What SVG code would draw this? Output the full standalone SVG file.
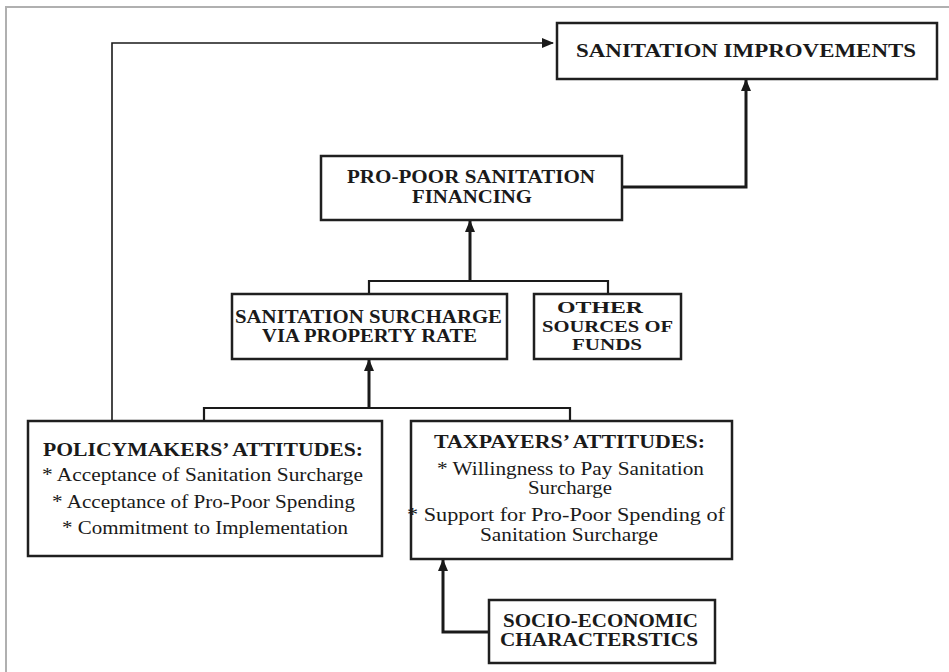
<svg xmlns="http://www.w3.org/2000/svg" width="949" height="672" viewBox="0 0 949 672">
<defs>
<marker id="ah" markerUnits="userSpaceOnUse" markerWidth="12" markerHeight="12" viewBox="0 0 12 12" refX="11" refY="6" orient="auto">
<path d="M0,1 L12,6 L0,11 Z" fill="#1a1a1a"/>
</marker>
</defs>
<style>
.box{fill:#fff;stroke:#1f1f1f;stroke-width:2.5}
.t{font-family:"Liberation Serif","Times New Roman",serif;fill:#1a1a1a;text-anchor:middle}
.b{font-weight:bold;font-size:18.5px}
.s{font-weight:bold;font-size:16px}
.r{font-size:19px}
.c{fill:none;stroke:#1a1a1a;stroke-linejoin:miter}
.thin{stroke-width:1.6}
.mid{stroke-width:2.2}
.thick{stroke-width:3}
</style>
<rect width="949" height="672" fill="#fff"/>
<path d="M6,672 V7 H949" fill="none" stroke="#b0b0b0" stroke-width="2"/>
<g id="connectors">
<path class="c thin" d="M112,421 V43 H553" marker-end="url(#ah)"/>
<path class="c thick" d="M622,187 H746 V80" marker-end="url(#ah)"/>
<path class="c mid" d="M369,294 V281 H608 V294"/>
<path class="c thick" d="M470,281 V221" marker-end="url(#ah)"/>
<path class="c mid" d="M204,421 V408 H570 V421"/>
<path class="c thick" d="M369,408 V360" marker-end="url(#ah)"/>
<path class="c thick" d="M489,632 H443 V560" marker-end="url(#ah)"/>
</g>
<g id="sanitation-improvements">
<rect class="box" x="557" y="23" width="380" height="56"/>
<text class="t b" x="746" y="57" textLength="340" lengthAdjust="spacingAndGlyphs">SANITATION  IMPROVEMENTS</text>
</g>
<g id="pro-poor-financing">
<rect class="box" x="321" y="156" width="301" height="64"/>
<text class="t b" x="471" y="183" textLength="248" lengthAdjust="spacingAndGlyphs">PRO-POOR SANITATION</text>
<text class="t b" x="472" y="203" textLength="120" lengthAdjust="spacingAndGlyphs">FINANCING</text>
</g>
<g id="sanitation-surcharge">
<rect class="box" x="232" y="294" width="275" height="65"/>
<text class="t b" x="368.5" y="323" textLength="267" lengthAdjust="spacingAndGlyphs">SANITATION SURCHARGE</text>
<text class="t b" x="369.5" y="342" textLength="215" lengthAdjust="spacingAndGlyphs">VIA PROPERTY RATE</text>
</g>
<g id="other-sources">
<rect class="box" x="534" y="294" width="147" height="65"/>
<text class="t s" x="600" y="313" textLength="86" lengthAdjust="spacingAndGlyphs">OTHER</text>
<text class="t s" x="607.5" y="332" textLength="131" lengthAdjust="spacingAndGlyphs">SOURCES OF</text>
<text class="t s" x="607" y="350" textLength="70" lengthAdjust="spacingAndGlyphs">FUNDS</text>
</g>
<g id="policymakers-attitudes">
<rect class="box" x="28" y="421" width="354" height="135"/>
<text class="t b" x="203" y="456" textLength="320" lengthAdjust="spacingAndGlyphs">POLICYMAKERS’  ATTITUDES:</text>
<text class="t r" x="202.5" y="481" textLength="321" lengthAdjust="spacingAndGlyphs">* Acceptance of Sanitation  Surcharge</text>
<text class="t r" x="203.5" y="508" textLength="303" lengthAdjust="spacingAndGlyphs">* Acceptance of Pro-Poor Spending</text>
<text class="t r" x="205" y="534" textLength="286" lengthAdjust="spacingAndGlyphs">* Commitment  to Implementation</text>
</g>
<g id="taxpayers-attitudes">
<rect class="box" x="411" y="421" width="321" height="138"/>
<text class="t b" x="569.5" y="448" textLength="271" lengthAdjust="spacingAndGlyphs">TAXPAYERS’  ATTITUDES:</text>
<text class="t r" x="570.5" y="475" textLength="267" lengthAdjust="spacingAndGlyphs">* Willingness  to Pay Sanitation</text>
<text class="t r" x="570" y="494" textLength="84" lengthAdjust="spacingAndGlyphs">Surcharge</text>
<text class="t r" x="566" y="521" textLength="318" lengthAdjust="spacingAndGlyphs">* Support for Pro-Poor Spending  of</text>
<text class="t r" x="569" y="541" textLength="178" lengthAdjust="spacingAndGlyphs">Sanitation  Surcharge</text>
</g>
<g id="socio-economic">
<rect class="box" x="489" y="600" width="226" height="63"/>
<text class="t b" x="600.5" y="627" textLength="195" lengthAdjust="spacingAndGlyphs">SOCIO-ECONOMIC</text>
<text class="t b" x="599" y="646" textLength="198" lengthAdjust="spacingAndGlyphs">CHARACTERSTICS</text>
</g>
</svg>
